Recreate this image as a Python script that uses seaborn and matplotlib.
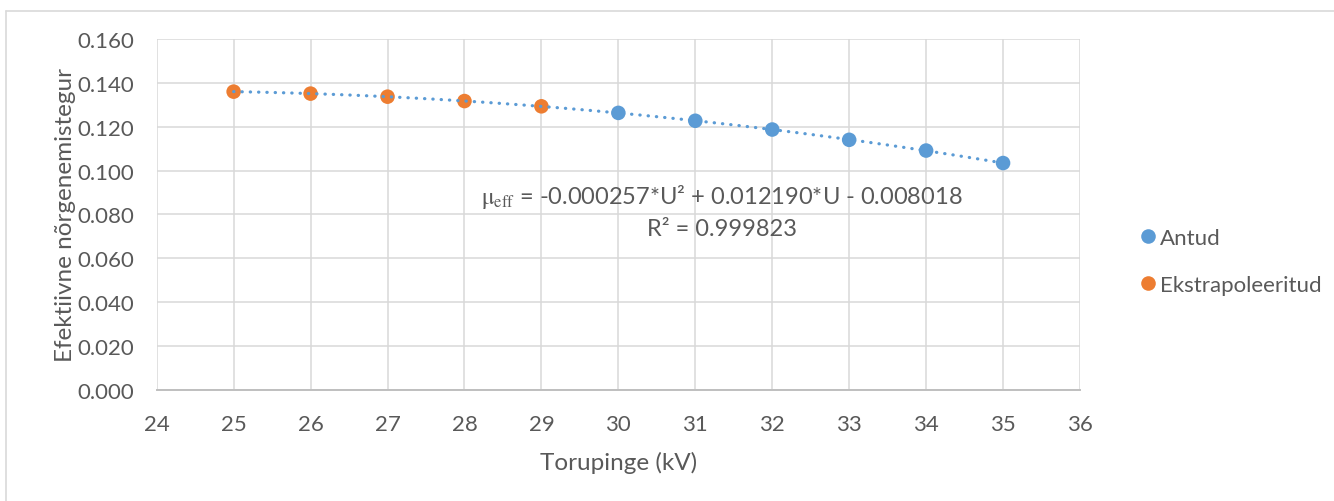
import matplotlib
matplotlib.use("Agg")
import matplotlib.pyplot as plt
from matplotlib.lines import Line2D
import seaborn as sns
import pandas as pd

# Data
u_antud = [30, 31, 32, 33, 34, 35]
mu_antud = [0.1264, 0.1228, 0.1188, 0.1141, 0.1092, 0.1035]
u_ekstra = [25, 26, 27, 28, 29]
mu_ekstra = [0.1361, 0.1352, 0.1338, 0.1318, 0.1294]
series_names = ["Antud", "Ekstrapoleeritud"]
colors = ["#5B9BD5", "#ED7D31"]
x_ticks = list(range(24, 37))
y_ticks = [0.0, 0.02, 0.04, 0.06, 0.08, 0.10, 0.12, 0.14, 0.16]
equation = r"$\mathrm{μ}_{\mathrm{eff}}$ = -0.000257*U² + 0.012190*U - 0.008018"
r2_text = "R² = 0.999823"

sns.set_theme(style="white")
plt.rcParams["font.family"] = ["Lato", "DejaVu Sans"]
plt.rcParams["mathtext.fontset"] = "stix"
text_color = "#595959"

df = pd.DataFrame({
    "U": u_antud + u_ekstra,
    "mu": mu_antud + mu_ekstra,
    "series": [series_names[0]] * len(u_antud) + [series_names[1]] * len(u_ekstra),
})

W, H = 1334, 502
fig = plt.figure(figsize=(W / 100, H / 100), dpi=100)
ax = fig.add_axes([156.7 / W, 1 - 390.7 / H, (1080 - 156.7) / W, (390.7 - 40.3) / H])

sns.scatterplot(data=df, x="U", y="mu", hue="series", hue_order=series_names,
                palette=colors, s=110, edgecolor="none", ax=ax, zorder=3, legend=False)
sns.regplot(data=df, x="U", y="mu", order=2, ci=None, scatter=False, ax=ax,
            line_kws=dict(color=colors[0], lw=2.3, ls=(0, (0.1, 2.5)),
                          dash_capstyle="round", zorder=4))

ax.set_xlim(24, 36)
ax.set_ylim(0, 0.16)
ax.set_xticks(x_ticks)
ax.set_yticks(y_ticks)
ax.set_xticklabels([str(t) for t in x_ticks])
ax.set_yticklabels([f"{t:.3f}" for t in y_ticks])
ax.grid(True, color="#D9D9D9", lw=1.1)
ax.set_axisbelow(True)
for side in ["top", "right", "left"]:
    ax.spines[side].set_visible(False)
ax.spines["bottom"].set_color("#BFBFBF")
ax.spines["bottom"].set_linewidth(1.4)
ax.tick_params(axis="both", length=0, labelsize=16, labelcolor=text_color)
ax.tick_params(axis="x", pad=17.5)
ax.tick_params(axis="y", pad=16)
ax.set_xlabel("Torupinge (kV)", fontsize=17.5, color=text_color, labelpad=12)
ax.set_ylabel("Efektiivne nõrgenemistegur", fontsize=17.5, color=text_color, labelpad=1)

ax.text(31.35, 0.0883, equation, ha="center", va="center", fontsize=17, color=text_color)
ax.text(31.35, 0.0737, r2_text, ha="center", va="center", fontsize=17, color=text_color)

handles = [Line2D([], [], marker="o", ls="", markersize=10.5, color=c, markeredgewidth=0)
           for c in colors]
fig.legend(handles, series_names, loc="upper left", bbox_to_anchor=(1128 / W, 1 - 220 / H),
           frameon=False, fontsize=16, handletextpad=0.05, labelspacing=1.2,
           labelcolor=text_color, handlelength=1.0, borderaxespad=0)

# Chart border (clipped at right and bottom like the reference)
fig.add_artist(Line2D([6 / W, 1.0], [1 - 11.5 / H, 1 - 11.5 / H],
                      transform=fig.transFigure, color="#D9D9D9", lw=1.2))
fig.add_artist(Line2D([6 / W, 6 / W], [0, 1 - 11.5 / H],
                      transform=fig.transFigure, color="#D9D9D9", lw=1.2))

fig.savefig("out.png", dpi=100, facecolor="white")
